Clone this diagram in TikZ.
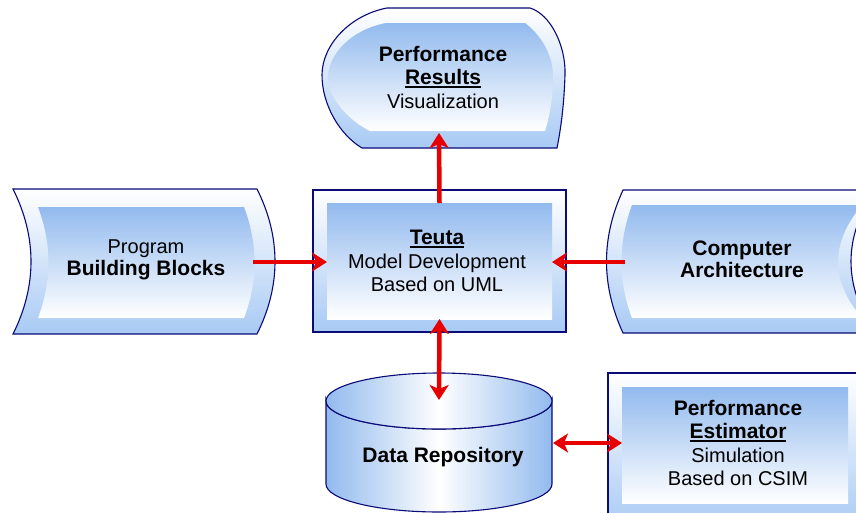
\documentclass[tikz,border=0pt]{standalone}
\usepackage{fontspec}
\setmainfont{Liberation Sans}
\usetikzlibrary{arrows.meta}
\definecolor{blueA}{RGB}{146,186,238}
\definecolor{blueB}{RGB}{168,202,244}
\definecolor{navy}{RGB}{10,10,120}
\definecolor{arrowred}{RGB}{232,0,0}
\newcommand\ulb[1]{\setbox0\hbox{#1}\rlap{\vrule width\wd0 height -1.6pt depth 3.6pt}\box0}
\newcommand\bt[1]{{\fontsize{21}{23.5}\selectfont\bfseries #1}}
\begin{document}
\begin{tikzpicture}[x=1pt,y=-1pt,
 outline/.style={draw=navy, line width=1.1pt},
 outerfill/.style={top color=white, bottom color=blueB},
 innerfill/.style={top color=blueA, bottom color=white},
 panel/.style={innerfill, inner sep=0pt, outer sep=0pt},
 lbl/.style={align=center, font=\fontsize{20}{23.5}\selectfont, inner sep=0pt},
 link/.style={draw=arrowred, line width=4.5pt, -{Stealth[length=15pt,width=19pt,inset=4pt]}},
 link2/.style={draw=arrowred, line width=4.5pt, {Stealth[length=15pt,width=19pt,inset=4pt]}-{Stealth[length=15pt,width=19pt,inset=4pt]}}
]
\useasboundingbox (0,0) rectangle (856,512);
\clip (0,0) rectangle (856,512);
\fill[white] (0,0) rectangle (856,512);

% Performance Results (display shape)
\path[outline, outerfill] (387,8) -- (530,8) .. controls (550,14) and (566,45) .. (565,75)
  .. controls (564,105) and (561,128) .. (557,148) -- (362,148)
  .. controls (340,135) and (322,105) .. (322,75) .. controls (322,45) and (350,15) .. (387,8) -- cycle;
\path[innerfill] (386,23) -- (525,23) .. controls (541,35) and (553,55) .. (553,76)
  .. controls (553,100) and (549,118) .. (545,131) -- (370,131)
  .. controls (350,121) and (329,100) .. (328,78) .. controls (328,55) and (350,30) .. (386,23) -- cycle;
\coordinate (prB) at (439,133);
\node[lbl] (prtext) at (443,77) {\bt{Performance}\\\bt{\ulb{Results}}\\Visualization};

% Program Building Blocks
\path[outline, outerfill] (13,189) -- (257,189) .. controls (281,237) and (281,286) .. (257,334)
  -- (13,334) .. controls (37,286) and (37,237) .. (13,189) -- cycle;
\path[innerfill] (38,207) -- (244,207) .. controls (258,244) and (258,281) .. (244,318)
  -- (38,318) .. controls (52,281) and (52,244) .. (38,207) -- cycle;
\coordinate (pbbR) at (253,262);
\node[lbl, font=\fontsize{20}{21.5}\selectfont] (pbbtext) at (146,260) {Program\\\bt{Building Blocks}};

% Computer Architecture
\path[outline, outerfill] (623,190) -- (875,190) .. controls (843,238) and (843,285) .. (875,333)
  -- (623,333) .. controls (601,285) and (601,238) .. (623,190) -- cycle;
\path[innerfill] (632,205) -- (862,205) .. controls (830,243) and (830,281) .. (862,318)
  -- (632,318) .. controls (618,281) and (618,243) .. (632,205) -- cycle;
\coordinate (caL) at (625,262);
\node[lbl, font=\fontsize{21}{22}\selectfont\bfseries] (catext) at (742,259) {Computer\\Architecture};

% Teuta
\path[outline, outerfill] (313,190) rectangle (566,332);
\node[panel, minimum width=225pt, minimum height=116pt] (teuta) at (439.5,261) {};
\node[lbl] (teutatext) at (437,261) {\bt{\ulb{Teuta}}\\Model Development\\Based on UML};

% Data Repository
\path[outline, left color=blueA, right color=blueA, middle color=white]
  (326,401) -- (326,484) .. controls (326,499.5) and (376.6,512) .. (439,512)
  .. controls (501.4,512) and (552,499.5) .. (552,484) -- (552,401)
  .. controls (552,416.5) and (501.4,429) .. (439,429)
  .. controls (376.6,429) and (326,416.5) .. (326,401) -- cycle;
\path[outline, left color=blueA, right color=blueA, middle color=white]
  (439,401) ellipse [x radius=113, y radius=28];
\coordinate (drTop) at (439,400);
\coordinate (drR) at (553,443);
\node[lbl, font=\fontsize{21}{23.5}\selectfont\bfseries] (drtext) at (443,457) {Data Repository};

% Performance Estimator
\path[outline, outerfill] (608,373) rectangle (880,530);
\node[panel, minimum width=226pt, minimum height=116pt] (pe) at (735,445) {};
\node[lbl] (petext) at (738,443) {\bt{Performance}\\\bt{\ulb{Estimator}}\\Simulation\\Based on CSIM};

% connectors
\draw[link] (teuta.north) -- (prB);
\draw[link] (pbbR) -- (teuta.west |- pbbR);
\draw[link] (caL) -- (teuta.east |- caL);
\draw[link2] (teuta.south) -- (drTop);
\draw[link2] (drR) -- (pe.west |- drR);
\end{tikzpicture}
\end{document}
